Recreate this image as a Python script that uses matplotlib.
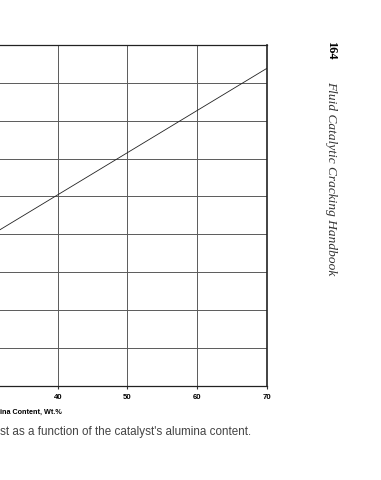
import matplotlib
matplotlib.use("Agg")
import matplotlib.pyplot as plt

# data (grid units on y; y labels are off the page)
x_vals = [30, 70]
y_vals = [3.93, 8.38]
x_ticks = [40, 50, 60, 70]
x_tick_labels = ["40", "50", "60", "70"]
y_ticks = list(range(0, 10))

fig = plt.figure(figsize=(3.81, 4.80), dpi=100)
ax = fig.add_axes([-0.214, 0.1965, 0.914, 0.7098])
ax.plot(x_vals, y_vals, color="#222222", lw=0.6)
ax.set_xlim(20, 70)
ax.set_ylim(0, 9)
ax.set_xticks(x_ticks)
ax.set_xticklabels(x_tick_labels, family="Liberation Sans", fontweight="bold", fontsize=5.6)
ax.set_yticks(y_ticks)
ax.set_yticklabels([])
ax.tick_params(axis="x", direction="out", length=2.5, width=0.8, pad=3.5, color="#333333")
ax.tick_params(axis="y", length=0)
ax.grid(True, color="#5a5a5a", lw=0.7)
for s in ax.spines.values():
    s.set_color("#222222")
    s.set_linewidth(0.9)
ax.spines["right"].set_linewidth(1.2)

fig.text(0.0, 1 - 412 / 480, "ina Content, Wt.%", ha="left", va="center",
         family="Liberation Sans", fontweight="bold", fontsize=5.2)
fig.text(0.0, 1 - 432 / 480, "st as a function of the catalyst's alumina content.",
         ha="left", va="center", family="Liberation Sans", fontsize=8.4, color="#444444")
fig.text(331.5 / 381, 1 - 50.5 / 480, "164", rotation=-90, ha="center", va="center",
         family="Liberation Serif", fontweight="bold", fontsize=9)
fig.text(331.5 / 381, 1 - 178 / 480, "Fluid Catalytic Cracking Handbook", rotation=-90,
         ha="center", va="center", family="Liberation Serif", style="italic", fontsize=9.6,
         color="#333333")

fig.savefig("out.png", dpi=100)
